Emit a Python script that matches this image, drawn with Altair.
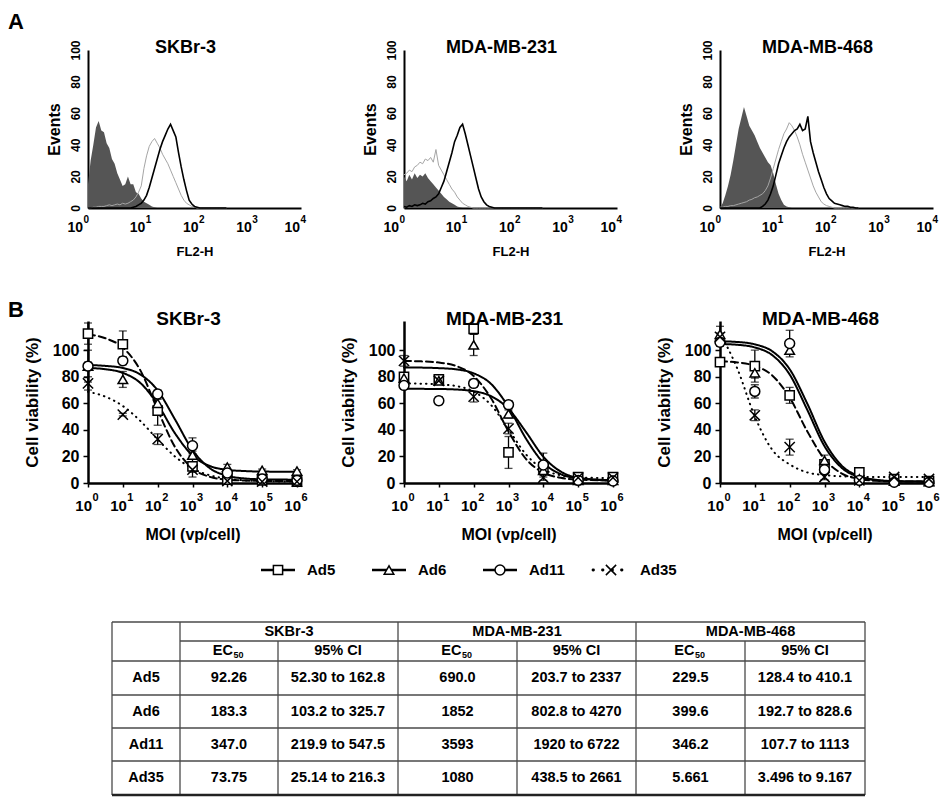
import altair as alt
import pandas as pd

FONT = "Liberation Sans"
INK = "#000000"

SERIES = ["Ad5", "Ad6", "Ad11", "Ad35"]
CELL_LINES = ["SKBr-3", "MDA-MB-231", "MDA-MB-468"]

# ---------------- Panel A : flow cytometry histograms (x = log10 FL2-H) ----------------
A_EXP = [0.00, 0.05, 0.10, 0.15, 0.20, 0.25, 0.30, 0.35, 0.40, 0.45,
         0.50, 0.55, 0.60, 0.65, 0.70, 0.75, 0.80, 0.85, 0.90, 0.95,
         1.00, 1.05, 1.10, 1.15, 1.20, 1.25, 1.30, 1.35, 1.40, 1.45,
         1.50, 1.55, 1.60, 1.65, 1.70, 1.75, 1.80, 1.85, 1.90, 1.95,
         2.00, 2.05, 2.10, 2.15, 2.20, 2.25, 2.30, 2.35, 2.40, 2.45,
         2.50, 2.55, 2.60]
A_TICK_EXP = [0, 1, 2, 3, 4]
A_TICK_SUP = ["0", "1", "2", "3", "4"]

SKBR3_CTRL = [15, 30, 40, 51, 55, 49, 48, 41, 38, 31,
              28, 22, 18, 14, 15, 20, 15, 15, 10, 9,
              6, 4, 3, 2, 1, 0.5, 0, 0, 0, 0,
              0, 0, 0, 0, 0, 0, 0, 0, 0, 0,
              0, 0, 0, 0, 0, 0, 0, 0, 0, 0,
              0, 0, 0]
SKBR3_GRAY = [0, 0, 0.5, 0.5, 1, 1, 1, 1.5, 2, 1.5,
              2, 2.5, 2, 3, 2.5, 3, 4, 5, 7, 10,
              14, 25, 33, 39, 42, 44, 41, 38, 34, 31,
              28, 24, 20, 16, 12, 8, 5, 3, 2, 1,
              0.5, 0, 0, 0, 0, 0, 0, 0, 0, 0,
              0, 0, 0]
SKBR3_BLACK = [0, 0, 0, 0, 0, 0, 0, 0, 0, 0,
               0, 0, 0, 0, 0, 0, 0, 0.5, 1, 2,
               3, 5, 8, 13, 19, 25, 31, 37, 42, 46,
               50, 53, 49, 45, 35, 26, 18, 11, 5, 2.5,
               1, 0.5, 0, 0, 0, 0, 0, 0, 0, 0,
               0, 0, 0]

MDA231_CTRL = [20, 17, 21, 18, 22, 19, 21, 20, 22, 19,
               17, 15, 13, 11, 9, 7, 5.5, 4, 3, 2,
               1, 0.5, 0, 0, 0, 0, 0, 0, 0, 0,
               0, 0, 0, 0, 0, 0, 0, 0, 0, 0,
               0, 0, 0, 0, 0, 0, 0, 0, 0, 0,
               0, 0, 0]
MDA231_GRAY = [21, 22, 24, 23, 26, 27, 29, 28, 31, 30,
               32, 29, 37, 27, 24, 21, 18, 15, 12, 10,
               7, 5, 3, 2, 1, 0.5, 0, 0, 0, 0,
               0, 0, 0, 0, 0, 0, 0, 0, 0, 0,
               0, 0, 0, 0, 0, 0, 0, 0, 0, 0,
               0, 0, 0]
MDA231_BLACK = [1, 0.5, 1.5, 1, 2, 1.5, 2, 3, 2.5, 4,
                4.5, 6, 7, 9, 13, 17, 23, 29, 35, 42,
                46, 51, 53, 47, 40, 33, 26, 19, 12, 7,
                4, 2, 1, 0.5, 0, 0, 0, 0, 0, 0,
                0, 0, 0, 0, 0, 0, 0, 0, 0, 0,
                0, 0, 0]

MDA468_CTRL = [0, 3, 8, 14, 21, 30, 40, 50, 57, 64,
               58, 52, 49, 46, 42, 38, 35, 32, 29, 27,
               22, 15, 9, 5, 2, 1, 0.5, 0, 0, 0,
               0, 0, 0, 0, 0, 0, 0, 0, 0, 0,
               0, 0, 0, 0, 0, 0, 0, 0, 0, 0,
               0, 0, 0]
MDA468_GRAY = [0.5, 0.5, 1, 1, 1.5, 1.5, 2, 2.5, 3, 3.5,
               4, 5, 5.5, 6.5, 7, 8, 9, 11, 14, 19,
               25, 31, 37, 42, 47, 50, 54, 52, 49, 45,
               40, 34, 29, 24, 19, 14, 10, 7, 4, 2.5,
               1.5, 1, 0.5, 0, 0, 0, 0, 0, 0, 0,
               0, 0, 0]
MDA468_BLACK = [0, 0, 0, 0, 0, 0, 0, 0, 0, 0,
                0, 0, 0, 0, 0, 0, 1, 2.5, 5, 9,
                14, 21, 28, 33, 38, 42, 45, 47, 49, 50,
                53, 49, 50, 58, 42, 35, 29, 23, 18, 13,
                9, 6, 4.5, 3, 2.5, 2, 1.5, 1, 1, 0.5,
                0.5, 0, 0]

# ---------------- Panel B : cell viability vs MOI ----------------
MOI = [1, 10, 100, 1000, 10000, 100000, 1000000]
B_TICK_SUP = ["0", "1", "2", "3", "4", "5", "6"]
CURVE_MOI = [1, 3.16, 10, 31.6, 100, 316, 1000, 3162, 10000, 31623, 100000, 1000000]

VIAB_SKBR3 = {"Ad5": [112.5, 104.5, 54.5, 12.5, 2.5, 2, 1],
              "Ad6": [88, 78, 60, 21, 12, 9.5, 9],
              "Ad11": [88, 92, 67, 28, 7.5, 3, 2],
              "Ad35": [75, 51.5, 33, 10, 1.5, 1, 1]}
ERR_SKBR3 = {"Ad5": [8, 10, 11, 8, 1, 1, 1],
             "Ad6": [12, 6, 3, 3, 2, 1, 1],
             "Ad11": [3, 3, 3, 6, 2, 1, 1],
             "Ad35": [5, 1, 4, 2, 1, 1, 1]}
CURVE_SKBR3 = {"Ad5": [112, 109, 102, 85, 55, 27, 11, 4.6, 2.5, 1.9, 1.6, 1.5],
               "Ad6": [86.6, 85.7, 82.9, 75.4, 59.3, 37.3, 20.7, 12.8, 9.9, 9.0, 8.6, 8.5],
               "Ad11": [88.8, 88.2, 86.6, 81.8, 69.7, 47.8, 24.8, 11.1, 5.4, 3.4, 2.8, 2.5],
               "Ad35": [68.7, 65.0, 58.0, 46.8, 32.8, 19.9, 10.9, 5.8, 3.2, 2.0, 1.45, 1.1]}

VIAB_231 = {"Ad5": [80, 78, 116, 23, 12, 4.5, 4.5],
            "Ad6": [79, 77, 104, 52, 9.5, 2, 2],
            "Ad11": [73.5, 62, 75, 59, 13.5, 2, 1.5],
            "Ad35": [92, 77, 65, 41, 4, 4, 4]}
ERR_231 = {"Ad5": [3, 2, 4, 12, 3, 1, 1],
           "Ad6": [3, 2, 8, 3, 3, 1, 1],
           "Ad11": [3, 3, 3, 3, 9, 1, 1],
           "Ad35": [4, 2, 4, 4, 2, 1, 1]}
CURVE_231 = {"Ad5": [91.9, 91.6, 90.7, 88.1, 80.6, 63.8, 38.8, 18.2, 7.8, 3.9, 2.6, 2.0],
             "Ad6": [87, 86.9, 86.5, 85.6, 82.6, 74.6, 57.2, 33.5, 15.3, 6.7, 3.6, 2.1],
             "Ad11": [71, 70.9, 70.8, 70.4, 69.1, 65.4, 55.8, 38.5, 19.8, 8.6, 3.9, 1.7],
             "Ad35": [75, 74.8, 74.3, 73.0, 68.9, 58.7, 40.5, 21.6, 10.4, 5.8, 4.3, 3.6]}

VIAB_468 = {"Ad5": [91, 88, 66, 14, 8, 3, 1.5],
            "Ad6": [112, 83, 100, 17, 3, 1.5, 1],
            "Ad11": [106, 69, 105, 10, 2, 0.5, 0.5],
            "Ad35": [110, 51, 27, 4.5, 2, 4.5, 3]}
ERR_468 = {"Ad5": [3, 12, 6, 3, 2, 1, 1],
           "Ad6": [6, 4, 3, 4, 1, 1, 1],
           "Ad11": [3, 5, 10, 3, 1, 1, 1],
           "Ad35": [3, 4, 6, 2, 1, 1, 1]}
CURVE_468 = {"Ad5": [91.6, 90.8, 88.2, 81.0, 64.3, 39.2, 18.0, 7.1, 3.0, 1.6, 1.2, 1.0],
             "Ad6": [106.7, 106.2, 104.4, 99.2, 85.7, 60.1, 31.2, 12.9, 5.1, 2.3, 1.4, 1.0],
             "Ad11": [104.7, 104.1, 102.1, 96.3, 81.7, 55.4, 27.7, 11.3, 4.5, 2.1, 1.3, 1.0],
             "Ad35": [113, 86, 50, 25, 14, 8, 6, 5, 4.6, 4.5, 4.5, 4.5]}

# ---------------- Table : EC50 values ----------------
EC50 = {"SKBr-3": ["92.26", "183.3", "347.0", "73.75"],
        "MDA-MB-231": ["690.0", "1852", "3593", "1080"],
        "MDA-MB-468": ["229.5", "399.6", "346.2", "5.661"]}
CI95 = {"SKBr-3": ["52.30 to 162.8", "103.2 to 325.7", "219.9 to 547.5", "25.14 to 216.3"],
        "MDA-MB-231": ["203.7 to 2337", "802.8 to 4270", "1920 to 6722", "438.5 to 2661"],
        "MDA-MB-468": ["128.4 to 410.1", "192.7 to 828.6", "107.7 to 1113", "3.496 to 9.167"]}

# ---------------- layout / style ----------------
A_W, A_H = 213, 158
B_W, B_H = 209, 162
BOTTOM_W, BOTTOM_H = 850, 248
TABLE_LEFT, TABLE_TOP = 24, 73
COL_W = [68, 98, 120, 119, 119, 109, 120]
ROW_H = [19, 20, 34, 33, 33, 34]
LEGEND_RANGE = [190, 523]
DASHES = [[7, 4], [1, 0], [1, 0], [0.5, 5]]
XPATH = "M-1,-1L1,1M-1,1L1,-1"
SHAPES = ["square", "triangle-up", "circle", XPATH]
SIZES = [85, 105, 110, 55]


def letter_layer(letter, y):
    return alt.Chart(pd.DataFrame({"t": [letter]})).mark_text(
        font=FONT, fontSize=22, fontWeight="bold", align="left", baseline="alphabetic", color=INK
    ).encode(text="t:N", x=alt.value(-80), y=alt.value(y))


def title_layer(title, x, y, size):
    return alt.Chart(pd.DataFrame({"t": [title]})).mark_text(
        font=FONT, fontSize=size, fontWeight="bold", align="center", baseline="alphabetic", color=INK
    ).encode(text="t:N", x=alt.value(x), y=alt.value(y))


def tick_layers(df, xenc, y_base, y_sup, size_base, size_sup, rules):
    out = []
    for cond, dx in rules:
        c = alt.Chart(df)
        if cond is not None:
            c = c.transform_filter(cond)
        out.append(c.mark_text(text="10", font=FONT, fontSize=size_base, fontWeight="bold",
                               align="right", baseline="alphabetic", dx=dx, color=INK)
                   .encode(x=xenc, y=alt.value(y_base)))
        out.append(c.mark_text(font=FONT, fontSize=size_sup, fontWeight="bold",
                               align="left", baseline="alphabetic", dx=dx + 0.5, color=INK)
                   .encode(x=xenc, y=alt.value(y_sup), text="sup:N"))
    return out


def hist_panel(title, ctrl, gray, black, letter=None):
    df = pd.DataFrame({"e": A_EXP, "ctrl": ctrl, "gray": gray, "black": black})
    xs = alt.Scale(domain=[0, 4], nice=False, zero=False)
    ys = alt.Scale(domain=[0, 100], nice=False)
    xaxis = alt.Axis(title="FL2-H", labels=False, ticks=False, grid=False, domainColor=INK,
                     domainWidth=2, titleFont=FONT, titleFontSize=13, titleFontWeight="bold",
                     titleColor=INK, titlePadding=37)
    yaxis = alt.Axis(title="Events", values=[0, 20, 40, 60, 80, 100], ticks=False, grid=False,
                     domainColor=INK, domainWidth=2, labelAngle=270, labelAlign="center",
                     labelBaseline="bottom", labelFont=FONT, labelFontSize=12, labelFontWeight="bold",
                     labelColor=INK, labelPadding=6, titleFont=FONT, titleFontSize=16,
                     titleFontWeight="bold", titleColor=INK, titlePadding=7)
    X = alt.X("e:Q", scale=xs, axis=xaxis)
    base = alt.Chart(df)
    area = base.mark_area(color="#555555", interpolate="linear").encode(
        x=X, y=alt.Y("ctrl:Q", scale=ys, axis=yaxis))
    gl = base.mark_line(color="#a5a5a5", strokeWidth=1).encode(
        x=X, y=alt.Y("gray:Q", scale=ys, axis=yaxis))
    bl = base.mark_line(color=INK, strokeWidth=1.6).encode(
        x=X, y=alt.Y("black:Q", scale=ys, axis=yaxis))
    tk = pd.DataFrame({"e": A_TICK_EXP, "sup": A_TICK_SUP})
    labels = tick_layers(tk, X, A_H + 24, A_H + 15, 14, 10,
                         [("datum.e == 0", -5), ("datum.e > 0 && datum.e < 4", 4), ("datum.e == 4", -1)])
    layers = [area, gl, bl] + labels + [title_layer(title, A_W / 2 - 9, 3, 18)]
    if letter:
        layers.append(letter_layer(letter, -21))
    return alt.layer(*layers).properties(width=A_W, height=A_H)


def dose_panel(title, viab, err, curve, letter=None):
    pts = pd.DataFrame([{"moi": m, "series": s, "v": v, "lo": v - e, "hi": v + e}
                        for s in SERIES for m, v, e in zip(MOI, viab[s], err[s])])
    crv = pd.DataFrame([{"moi": m, "series": s, "v": v}
                        for s in SERIES for m, v in zip(CURVE_MOI, curve[s])])
    xs = alt.Scale(type="log", domain=[1, 1000000], nice=False)
    ys = alt.Scale(domain=[0, 122], nice=False, zero=True)
    xaxis = alt.Axis(title="MOI (vp/cell)", values=MOI, labels=False, ticks=True, tickSize=4,
                     tickWidth=1.5, tickColor=INK, grid=False, domainColor=INK, domainWidth=2.5,
                     titleFont=FONT, titleFontSize=16, titleFontWeight="bold", titleColor=INK,
                     titlePadding=39)
    yaxis = alt.Axis(title="Cell viability (%)", values=[0, 20, 40, 60, 80, 100], tickSize=5,
                     tickWidth=1.5, tickColor=INK, grid=False, domainColor=INK, domainWidth=2.5,
                     labelFont=FONT, labelFontSize=16, labelFontWeight="bold", labelColor=INK,
                     labelPadding=4, titleFont=FONT, titleFontSize=17, titleFontWeight="bold",
                     titleColor=INK, titlePadding=11)
    X = alt.X("moi:Q", scale=xs, axis=xaxis)

    def Y(field):
        return alt.Y(field, scale=ys, axis=yaxis)

    curves = alt.Chart(crv).mark_line(interpolate="monotone", color=INK, strokeWidth=2,
                                      strokeCap="round").encode(
        x=X, y=Y("v:Q"), detail="series:N",
        strokeDash=alt.StrokeDash("series:N", scale=alt.Scale(domain=SERIES, range=DASHES), legend=None))
    bars = alt.Chart(pts).mark_rule(color=INK, strokeWidth=1.3).encode(
        x=X, y=Y("lo:Q"), y2="hi:Q")
    cap_hi = alt.Chart(pts).mark_tick(orient="horizontal", color=INK, size=8, thickness=1.3).encode(
        x=X, y=Y("hi:Q"))
    cap_lo = alt.Chart(pts).mark_tick(orient="horizontal", color=INK, size=8, thickness=1.3).encode(
        x=X, y=Y("lo:Q"))
    marks = alt.Chart(pts).mark_point(filled=True, fill="white", stroke=INK, strokeWidth=1.5,
                                      opacity=1).encode(
        x=X, y=Y("v:Q"),
        shape=alt.Shape("series:N", scale=alt.Scale(domain=SERIES, range=SHAPES), legend=None),
        size=alt.Size("series:N", scale=alt.Scale(domain=SERIES, range=SIZES), legend=None))
    tk = pd.DataFrame({"moi": MOI, "sup": B_TICK_SUP})
    labels = tick_layers(tk, X, B_H + 28, B_H + 18, 15, 11, [(None, 4)])
    layers = [curves, bars, cap_hi, cap_lo, marks] + labels + [title_layer(title, B_W / 2 - 4, 4, 19)]
    if letter:
        layers.append(letter_layer(letter, -4))
    return alt.layer(*layers).properties(width=B_W, height=B_H)


def bottom_chart():
    # legend
    leg = pd.DataFrame({"series": SERIES})
    lx = alt.X("series:N", sort=SERIES,
               scale=alt.Scale(type="point", domain=SERIES, range=LEGEND_RANGE, padding=0),
               axis=None)
    leg_solid = alt.Chart(leg).transform_filter("datum.series != 'Ad35'").mark_rule(
        color=INK, strokeWidth=2.5, xOffset=-17, x2Offset=17).encode(
        x=lx, x2="series:N", y=alt.value(21))
    leg_dot = alt.Chart(leg).transform_filter("datum.series == 'Ad35'").mark_rule(
        color=INK, strokeWidth=2.8, strokeCap="round", strokeDash=[0.5, 9],
        xOffset=-18, x2Offset=18).encode(
        x=lx, x2="series:N", y=alt.value(21))
    leg_pts = alt.Chart(leg).mark_point(filled=True, fill="white", stroke=INK, strokeWidth=1.5,
                                        opacity=1).encode(
        x=lx, y=alt.value(21),
        shape=alt.Shape("series:N", scale=alt.Scale(domain=SERIES, range=SHAPES), legend=None),
        size=alt.Size("series:N", scale=alt.Scale(domain=SERIES, range=SIZES), legend=None))
    leg_txt = alt.Chart(leg).mark_text(font=FONT, fontSize=15, fontWeight="bold", align="left",
                                       baseline="middle", dx=29, color=INK).encode(
        x=lx, y=alt.value(21), text="series:N")
    legend = alt.layer(leg_solid, leg_dot, leg_pts, leg_txt)

    # table geometry
    cx = [TABLE_LEFT]
    for w in COL_W:
        cx.append(cx[-1] + w)
    ry = [TABLE_TOP]
    for h in ROW_H:
        ry.append(ry[-1] + h)
    hlines = [(0, 0, 7), (1, 1, 7), (2, 0, 7), (3, 0, 7), (4, 0, 7), (5, 0, 7)]
    vlines = [(0, 0, 6), (1, 0, 6), (2, 1, 6), (3, 0, 6), (4, 1, 6), (5, 0, 6), (6, 1, 6), (7, 0, 6)]
    segs = [{"x": cx[a], "x2": cx[b], "y": ry[r], "y2": ry[r]} for r, a, b in hlines]
    segs += [{"x": cx[c], "x2": cx[c], "y": ry[a], "y2": ry[b]} for c, a, b in vlines]
    bottom_seg = [{"x": cx[0], "x2": cx[7], "y": ry[6], "y2": ry[6]}]

    def mid(v, i):
        return (v[i] + v[i + 1]) / 2

    cells, ec = [], []
    for k, cl in enumerate(CELL_LINES):
        cells.append({"x": (cx[1 + 2 * k] + cx[3 + 2 * k]) / 2, "y": mid(ry, 0), "t": cl})
        cells.append({"x": mid(cx, 2 + 2 * k), "y": mid(ry, 1), "t": "95% CI"})
        ec.append({"x": mid(cx, 1 + 2 * k), "y": mid(ry, 1), "a": "EC", "b": "50"})
    for r, v in enumerate(SERIES):
        cells.append({"x": mid(cx, 0), "y": mid(ry, 2 + r), "t": v})
        for k, cl in enumerate(CELL_LINES):
            cells.append({"x": mid(cx, 1 + 2 * k), "y": mid(ry, 2 + r), "t": EC50[cl][r]})
            cells.append({"x": mid(cx, 2 + 2 * k), "y": mid(ry, 2 + r), "t": CI95[cl][r]})

    txs = alt.Scale(domain=[0, BOTTOM_W], nice=False, zero=False)
    tys = alt.Scale(domain=[0, BOTTOM_H], nice=False, zero=False, reverse=True)
    TX = alt.X("x:Q", scale=txs, axis=None)
    TY = alt.Y("y:Q", scale=tys, axis=None)
    grid_lines = alt.Chart(pd.DataFrame(segs)).mark_rule(color="#4a4a4a", strokeWidth=1.3).encode(
        x=TX, x2="x2:Q", y=TY, y2="y2:Q")
    bottom_line = alt.Chart(pd.DataFrame(bottom_seg)).mark_rule(color="#222222", strokeWidth=2.6).encode(
        x=TX, x2="x2:Q", y=TY, y2="y2:Q")
    txt = alt.Chart(pd.DataFrame(cells)).mark_text(font=FONT, fontSize=14.5, fontWeight="bold",
                                                   align="center", baseline="middle", color=INK).encode(
        x=TX, y=TY, text="t:N")
    ec_main = alt.Chart(pd.DataFrame(ec)).mark_text(font=FONT, fontSize=14.5, fontWeight="bold",
                                                    align="right", baseline="middle", dx=4, color=INK).encode(
        x=TX, y=TY, text="a:N")
    ec_sub = alt.Chart(pd.DataFrame(ec)).mark_text(font=FONT, fontSize=9, fontWeight="bold",
                                                   align="left", baseline="middle", dx=4.5, dy=4,
                                                   color=INK).encode(
        x=TX, y=TY, text="b:N")
    table = alt.layer(grid_lines, bottom_line, txt, ec_main, ec_sub)
    return alt.layer(legend, table).resolve_scale(x="independent", y="independent").properties(
        width=BOTTOM_W, height=BOTTOM_H)


panels = [
    hist_panel("SKBr-3", SKBR3_CTRL, SKBR3_GRAY, SKBR3_BLACK, letter="A"),
    hist_panel("MDA-MB-231", MDA231_CTRL, MDA231_GRAY, MDA231_BLACK),
    hist_panel("MDA-MB-468", MDA468_CTRL, MDA468_GRAY, MDA468_BLACK),
    dose_panel("SKBr-3", VIAB_SKBR3, ERR_SKBR3, CURVE_SKBR3, letter="B"),
    dose_panel("MDA-MB-231", VIAB_231, ERR_231, CURVE_231),
    dose_panel("MDA-MB-468", VIAB_468, ERR_468, CURVE_468),
]
grid = alt.concat(*panels, columns=3, spacing={"row": 113, "column": 103}, bounds="flush")

chart = alt.vconcat(grid, bottom_chart(), spacing=6).properties(
    padding={"top": 3, "left": 0, "right": 0, "bottom": 0}
).configure(font=FONT).configure_view(stroke=None)

chart.save("out.html", embed_options={"renderer": "svg", "actions": False})
